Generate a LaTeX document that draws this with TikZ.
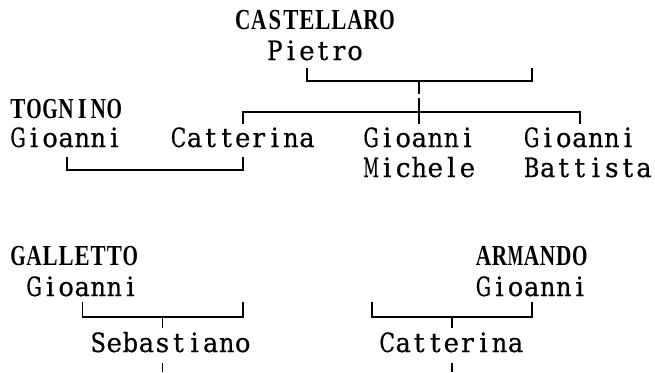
\documentclass[tikz,border=0pt]{standalone}
\usepackage{fontspec}
\usepackage{graphicx}
\newfontfamily\nmfont[FakeBold=0.6]{DejaVu Serif}
\newfontfamily\surfont[FakeStretch=0.78]{Liberation Serif}
\newlength\cw \setlength\cw{16.05pt}
\newlength\gmax \setlength\gmax{15.4pt}
\newsavebox\gbox
\def\cells#1{\cellsaux#1\relax}
\def\cellsaux#1{\ifx#1\relax\else\onecell{#1}\expandafter\cellsaux\fi}
\newcommand\onecell[1]{\sbox\gbox{#1}%
  \ifdim\wd\gbox>\gmax
    \makebox[\cw][c]{\resizebox{\gmax}{\ht\gbox}{\usebox\gbox}}%
  \else
    \makebox[\cw][c]{\usebox\gbox}%
  \fi}
\tikzset{
  given/.style={inner sep=0pt,outer sep=0pt,anchor=base west,font=\nmfont\fontsize{26.5pt}{30pt}\selectfont},
  family/.style={inner sep=0pt,outer sep=0pt,anchor=base west,font=\surfont\bfseries\fontsize{29pt}{30pt}\selectfont},
  link/.style={line width=1.8pt,line cap=butt,line join=miter}
}
\begin{document}
\begin{tikzpicture}[x=1pt,y=-1pt]
\useasboundingbox (0,0) rectangle (655,372);
% top family
\node[family] (castellaro) at (234.7,29) {\cells{CASTELLARO}};
\node[given]  (pietro)     at (266.8,60) {\cells{Pietro}};
\node[family] (tognino)    at (10,118)   {\cells{TOGNINO}};
\node[given]  (gioT)       at (10,147)   {\cells{Gioanni}};
\node[given]  (catt1)      at (170.5,147) {\cells{Catterina}};
\node[given]  (gioM1)      at (363.1,147) {\cells{Gioanni}};
\node[given]  (gioM2)      at (363.1,177) {\cells{Michele}};
\node[given]  (gioB1)      at (523.6,147) {\cells{Gioanni}};
\node[given]  (gioB2)      at (523.6,177) {\cells{Battista}};
% bottom families
\node[family] (galletto)   at (10,265)   {\cells{GALLETTO}};
\node[given]  (gioG)       at (26.05,296) {\cells{Gioanni}};
\node[given]  (sebastiano) at (90.25,352) {\cells{Sebastiano}};
\node[family] (armando)    at (475.45,265) {\cells{ARMANDO}};
\node[given]  (gioA)       at (475.45,296) {\cells{Gioanni}};
\node[given]  (catt2)      at (379.15,352) {\cells{Catterina}};
% bracket corners
\coordinate (pA1) at (307,68);  \coordinate (pA2) at (307,81);
\coordinate (pA3) at (532,81);  \coordinate (pA4) at (532,68);
\coordinate (sA1) at (419,81);  \coordinate (sA2) at (419,94);
\coordinate (sA3) at (419,98);  \coordinate (sA4) at (419,124);
\coordinate (pB1) at (243,124); \coordinate (pB2) at (243,112);
\coordinate (pB3) at (580,112); \coordinate (pB4) at (580,124);
\coordinate (pC1) at (67,157);  \coordinate (pC2) at (67,170);
\coordinate (pC3) at (243,170); \coordinate (pC4) at (243,157);
\coordinate (gL1) at (82.5,302); \coordinate (gL2) at (82.5,317);
\coordinate (gR2) at (243,317);  \coordinate (gR1) at (243,302);
\coordinate (gS1) at (162.5,317); \coordinate (gS2) at (162.5,328);
\coordinate (gS3) at (162.5,363); \coordinate (gS4) at (162.5,372);
\coordinate (aL1) at (372,302); \coordinate (aL2) at (372,317);
\coordinate (aR2) at (532,317); \coordinate (aR1) at (532,302);
\coordinate (aS1) at (452,317); \coordinate (aS2) at (452,328);
\coordinate (aS3) at (452,363); \coordinate (aS4) at (452,372);
% connectors
\draw[link] (pA1) -- (pA2) -- (pA3) -- (pA4);
\draw[link] (sA1) -- (sA2);
\draw[link] (sA3) -- (sA4);
\draw[link] (pB1) -- (pB2) -- (pB3) -- (pB4);
\draw[link] (pC1) -- (pC2) -- (pC3) -- (pC4);
\draw[link] (gL1) -- (gL2) -- (gR2) -- (gR1);
\draw[link] (gS1) -- (gS2);
\draw[link] (gS3) -- (gS4);
\draw[link] (aL1) -- (aL2) -- (aR2) -- (aR1);
\draw[link] (aS1) -- (aS2);
\draw[link] (aS3) -- (aS4);
\end{tikzpicture}
\end{document}
